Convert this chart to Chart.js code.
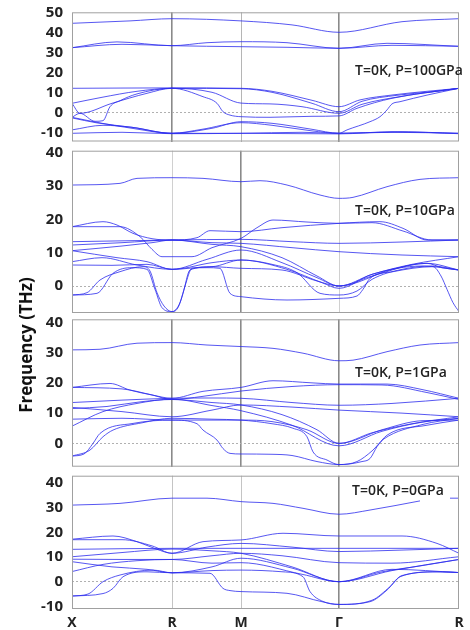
<!DOCTYPE html>
<html>
<head>
<meta charset="utf-8">
<script src="https://cdn.jsdelivr.net/npm/chart.js@4"></script>
<style>
  body { margin: 0; background: #fff; width: 470px; height: 630px; overflow: hidden; position: relative; }
  canvas { position: absolute; left: 0; }
  .tag { position: absolute; font: 600 14px 'Open Sans', sans-serif; color: #222; line-height: 18px; white-space: nowrap; }
  #ytitle { position: absolute; left: -75px; top: 334px; width: 200px; height: 22px; line-height: 22px;
            text-align: center; font: bold 17px 'Open Sans', sans-serif; color: #111; transform: rotate(-90deg); }
</style>
</head>
<body>
<canvas id="p1" width="470" height="146" style="top:0px"></canvas>
<canvas id="p2" width="470" height="176" style="top:141px"></canvas>
<canvas id="p3" width="470" height="160" style="top:310px"></canvas>
<canvas id="p4" width="470" height="164" style="top:466px"></canvas>
<div class="tag" style="left:355px; top:61px">T=0K, P=100GPa</div>
<div class="tag" style="left:355px; top:201px">T=0K, P=10GPa</div>
<div class="tag" style="left:355px; top:363px">T=0K, P=1GPa</div>
<div class="tag" style="left:352px; top:481px">T=0K, P=0GPa</div>
<div id="ytitle">Frequency (THz)</div>
<script>
// high symmetry points along the path (X-R-M-G-R)
const kPos = [0, 100, 169, 267, 387];
const kLabels = ['X', 'R', 'M', 'Γ', 'R'];

// y tick labels per panel
const p1Ticks = [-10, 0, 10, 20, 30, 40, 50];
const p2Ticks = [0, 10, 20, 30, 40];
const p3Ticks = [0, 10, 20, 30, 40];
const p4Ticks = [-10, 0, 10, 20, 30, 40];

// P = 100 GPa, bands as [k, THz]
const p1Bands = [
  [[0,44.5],[58,45.7],[100,46.8],[169,45.7],[220,43.7],[267,40],[330,45.3],[387,46.8]],
  [[0,32.3],[45,35.2],[100,33.3],[135,34.8],[169,35.3],[215,34.8],[267,32],[315,34.5],[387,33]],
  [[0,32.3],[50,34],[100,33.3],[169,32.8],[215,32.5],[267,32],[320,33.5],[387,33]],
  [[0,12],[100,12.2],[169,12],[200,10.5],[240,6],[267,2.8],[288,6.2],[321,8.7],[355,10.5],[387,12]],
  [[0,4.5],[30,7.5],[65,10.5],[100,12],[169,11.8],[200,10],[240,4.5],[267,0.3],[290,5.5],[325,8.5],[360,10.3],[387,12]],
  [[0,4.5],[8,-0.5],[40,4.5],[75,9.5],[100,12],[131,7.8],[145,4.5],[151,0.3],[158,-1.4],[169,-2.2],[198,-2.5],[240,-2],[267,-1.8],[285,2],[320,7],[387,12]],
  [[0,-2.5],[8,-0.5],[23,-4.5],[31,-4.2],[38,2.8],[48,5.8],[65,9.2],[100,12],[140,10],[169,4.6],[198,4.2],[230,2.8],[267,-0.5],[290,4],[330,8],[387,12]],
  [[0,-2.8],[25,-5.3],[60,-7.5],[100,-10.5],[140,-8],[169,-4.7],[200,-5.5],[240,-8.5],[267,-10.5],[275,-8.8],[298,-4.7],[308,-2.2],[315,1.2],[320,4.2],[328,5.3],[355,8.6],[387,12]],
  [[0,-8.8],[31,-6.5],[60,-7.5],[100,-10.5],[169,-10.5],[267,-10.8],[320,-9.7],[387,-10.5]],
  [[0,-10.5],[50,-10],[100,-10.7],[169,-10.5],[230,-10],[267,-10.5],[330,-9.8],[387,-10.7]],
  [[0,-2.5],[30,-5.5],[60,-8],[100,-10.5],[130,-8.5],[169,-5.2],[200,-6.5],[240,-9.3],[267,-10.5],[320,-10],[387,-10.5]]
];

// P = 10 GPa
const p2Bands = [
  [[0,30.3],[48,30.8],[65,32.3],[100,32.5],[131,32.3],[169,31.3],[188,31.6],[215,30.3],[248,27.3],[267,26.3],[281,26.6],[315,29.8],[348,32],[387,32.5]],
  [[0,17.8],[31,19.3],[45,18.3],[61,15.8],[80,14.2],[100,13.8],[125,14.5],[138,16.6],[169,16.3],[210,17.5],[267,18.8],[308,19.3],[331,17.3],[355,13.8],[387,13.8]],
  [[0,17.8],[48,17.8],[68,14.8],[80,11],[90,8.8],[120,8.8],[140,11.5],[169,14.3],[185,17.5],[201,19.8],[235,19.2],[267,18.8],[300,19],[331,16.5],[360,13.8],[387,13.8]],
  [[0,13.3],[100,13.8],[169,14],[220,13.3],[267,12.8],[330,13.2],[387,13.8]],
  [[0,12.3],[50,13],[100,13.8],[140,13],[169,12.8],[220,11.5],[267,10.3],[330,9.3],[387,8.8]],
  [[0,10.6],[50,12],[80,13],[100,13.8],[140,12.5],[169,11.8],[210,8.5],[245,3],[267,0],[300,3.5],[340,6.5],[387,8.8]],
  [[0,10.6],[45,8.5],[75,7.3],[100,5],[135,8],[169,10.8],[210,7],[245,2.5],[267,0],[300,3],[355,6.8],[387,4.8]],
  [[0,7.3],[30,8.5],[65,6.3],[100,5],[140,7],[169,7.8],[215,5],[250,1],[267,-0.7],[300,3.5],[350,6],[387,4.8]],
  [[0,6.3],[40,6.2],[75,6.5],[100,5],[140,5.8],[169,5.3],[210,4.8],[245,1.5],[267,0],[320,5],[355,6.8],[370,5.5],[387,4.8]],
  [[0,-2.7],[15,-2],[28,1.8],[48,4.3],[71,5.8],[78,4.5],[85,-2],[92,-6],[100,-7.7],[106,-6.5],[111,-2.2],[118,4.8],[140,5.8],[169,7.8],[200,6.5],[225,4],[248,-2.2],[267,-2.7],[285,-1.5],[300,2],[330,5],[360,6],[387,4.8]],
  [[0,-2.7],[25,-2.2],[41,3.8],[60,5.5],[75,5],[83,-1],[90,-6.5],[100,-7.7],[108,-5],[113,0],[120,5.3],[135,5.5],[148,5.3],[158,-2.2],[169,-3.2],[215,-4.2],[267,-3.7],[285,-3],[291,-1],[298,2.3],[321,4.3],[361,5.8],[369,3],[375,-1],[381,-5],[387,-7.7]]
];

// P = 1 GPa
const p3Bands = [
  [[0,30.9],[28,31.1],[65,33.1],[100,33.3],[135,32.5],[169,32],[201,31.4],[231,29.8],[267,27.3],[281,27.5],[315,30.3],[348,32.5],[387,33.3]],
  [[0,18.5],[38,19.8],[58,17.6],[80,16],[100,14.9],[131,17.2],[169,18.5],[201,20.7],[240,20],[267,19.6],[315,19.6],[350,17.8],[387,14.9]],
  [[0,18.5],[50,18],[80,16],[100,14.5],[130,15.5],[169,17.3],[220,18.8],[267,19.4],[310,19.3],[355,16.8],[387,14.5]],
  [[0,13.5],[50,14.3],[100,14.9],[140,15],[169,14.9],[220,13.5],[267,12.6],[320,13.2],[387,14.9]],
  [[0,11.9],[50,10.5],[100,8.8],[140,11],[169,12.7],[220,12],[267,11],[330,10],[387,8.8]],
  [[0,11.5],[35,12.2],[70,13.8],[100,14.5],[140,13.5],[169,12.7],[210,9.5],[245,4.5],[267,0],[300,3.5],[340,6.5],[387,8.8]],
  [[0,5.7],[31,10.5],[65,13.2],[100,14.6],[140,12.5],[169,10.8],[220,6],[267,-0.8],[310,4],[350,7],[387,8.3]],
  [[0,8],[50,8.3],[100,7.7],[169,7.7],[200,7.2],[235,4.5],[267,0],[310,4.5],[350,7.5],[387,7.7]],
  [[0,-4.2],[12,-3.5],[21,0],[28,3.3],[61,6.6],[100,7.7],[125,6.5],[131,4.4],[145,1.1],[151,-1.7],[158,-3.3],[169,-3.5],[200,-3.6],[220,-4],[245,-6],[267,-7],[290,-6],[298,-5],[305,-1.1],[315,2.7],[355,6],[387,7.7]],
  [[0,-4.2],[18,-2.2],[31,2.2],[41,4.4],[70,6.8],[100,8.3],[140,8],[169,7.7],[200,6.5],[221,5],[235,2.2],[241,-2.8],[255,-5.5],[267,-7],[285,-6],[300,-2.5],[312,1.5],[350,6.2],[387,8.3]]
];

// P = 0 GPa
const p4Bands = [
  [[0,31],[48,31.7],[100,33.8],[135,33.8],[169,32.4],[201,31.7],[231,29.7],[267,27.3],[298,29],[348,32.7],[350,null],[378,33.8],[387,33.8]],
  [[0,17.2],[41,18.5],[65,16.2],[85,13.1],[100,11.5],[131,16.2],[169,16.9],[211,19.6],[267,18.5],[330,18.5],[365,15.5],[387,11.5]],
  [[0,17],[50,17],[80,14.5],[100,11.5],[135,14],[169,15.5],[220,14],[267,12.2],[330,12.8],[387,13.5]],
  [[0,13.1],[100,13.5],[169,13.5],[267,13.5],[387,13.5]],
  [[0,10.1],[50,11.8],[100,13.2],[140,12.5],[169,11.5],[220,6],[267,0],[320,4.5],[387,9]],
  [[0,9.1],[50,9],[100,9],[140,10.5],[169,11.5],[210,10.5],[267,7.7],[320,7.5],[387,10.1]],
  [[0,8.1],[40,6],[75,5],[100,3.6],[140,6],[169,9.5],[220,5.5],[267,0],[310,4],[350,6.5],[387,9]],
  [[0,4.1],[31,7],[65,8.5],[100,9],[140,7.5],[169,7.7],[230,3],[267,0],[320,5],[387,3.7]],
  [[0,-5.8],[16,-5],[31,0],[48,2.7],[81,4.7],[100,3.6],[138,3.4],[151,-2.7],[158,-3.6],[169,-4],[215,-4.7],[250,-8.1],[267,-9.2],[298,-8.1],[315,-3.4],[328,2],[365,4],[387,3.7]],
  [[0,-5.8],[31,-4.8],[41,-2.7],[51,2],[75,4],[100,3.6],[140,4.5],[169,4.7],[211,4],[231,2],[238,-4],[251,-8],[267,-9.2],[300,-7.5],[318,-2],[330,2.5],[370,4],[387,3.7]]
];

// frame round each panel
const framePlugin = {
  id: 'frame',
  afterDraw(chart) {
    const a = chart.chartArea;
    const ctx = chart.ctx;
    ctx.save();
    ctx.strokeStyle = '#a0a0a0';
    ctx.lineWidth = 1;
    ctx.strokeRect(a.left + 0.5, a.top + 0.5, a.right - a.left - 1, a.bottom - a.top - 1);
    ctx.restore();
  }
};

function makePanel(id, bands, yMin, yMax, yTicks, lineCols, pad, xHeight) {
  const ctx = document.getElementById(id).getContext('2d');
  const datasets = bands.map(b => ({
    data: b.map(p => ({ x: p[0], y: p[1] })),
    borderColor: 'rgba(45,45,238,0.8)',
    borderWidth: 1,
    pointRadius: 0,
    cubicInterpolationMode: 'monotone',
    spanGaps: false
  }));

  return new Chart(ctx, {
    type: 'line',
    data: { datasets: datasets },
    plugins: [framePlugin],
    options: {
      responsive: false,
      animation: false,
      events: [],
      layout: { padding: { top: pad[0], bottom: pad[1], left: 0, right: 11 } },
      plugins: { legend: { display: false }, tooltip: { enabled: false } },
      scales: {
        x: {
          type: 'linear',
          min: 0,
          max: 387,
          afterBuildTicks: s => { s.ticks = kPos.map(v => ({ value: v })); },
          afterFit: s => { s.height = xHeight; s.paddingLeft = 0; s.paddingRight = 0; },
          grid: {
            drawTicks: false,
            color: c => lineCols[c.index],
            lineWidth: c => (lineCols[c.index] === '#8a8a8a' ? 1.6 : 1)
          },
          border: { display: false },
          ticks: {
            display: xHeight > 0,
            autoSkip: false,
            maxRotation: 0,
            padding: 6,
            color: '#222',
            font: { family: 'Open Sans', size: 14, weight: 'bold' },
            callback: (v, i) => kLabels[i]
          }
        },
        y: {
          min: yMin,
          max: yMax,
          afterBuildTicks: s => { s.ticks = yTicks.map(v => ({ value: v })); },
          afterFit: s => { s.width = 72; s.paddingTop = 0; s.paddingBottom = 0; },
          grid: {
            drawTicks: false,
            color: c => (c.tick && c.tick.value === 0 ? '#b0b0b0' : 'rgba(0,0,0,0)')
          },
          border: { display: false, dash: [2, 2] },
          ticks: {
            autoSkip: false,
            padding: 9,
            color: '#222',
            font: { family: 'Open Sans', size: 15, weight: 'bold' }
          }
        }
      }
    }
  });
}

const clear = 'rgba(0,0,0,0)';
makePanel('p1', p1Bands, -14.6, 50, p1Ticks, [clear, '#8a8a8a', '#b5b5b5', '#8a8a8a', clear], [12.3, 4.5], 0);
makePanel('p2', p2Bands, -8.1, 40.6, p2Ticks, [clear, '#d0d0d0', '#8a8a8a', '#d0d0d0', clear], [9.7, 4], 0);
makePanel('p3', p3Bands, -7.7, 41, p3Ticks, [clear, '#8a8a8a', '#8a8a8a', '#8a8a8a', clear], [9.3, 3.3], 0);
makePanel('p4', p4Bands, -11.05, 42.9, p4Ticks, [clear, '#c4c4c4', '#c4c4c4', '#8a8a8a', clear], [9.7, 0], 21);
</script>
</body>
</html>
